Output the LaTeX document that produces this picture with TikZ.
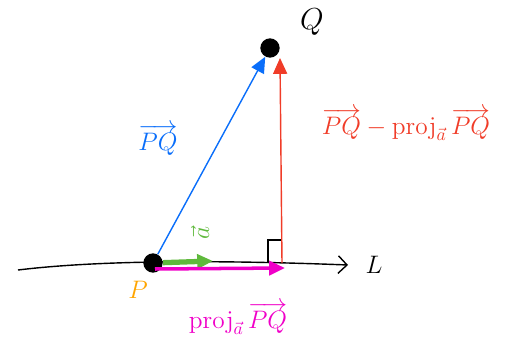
\documentclass[tikz,border=0pt]{standalone}
\usepackage{tikz}
\usetikzlibrary{arrows.meta, positioning}
\usepackage{amsmath}
\definecolor{penblue}{RGB}{10,110,250}
\definecolor{penred}{RGB}{240,60,40}
\definecolor{pengreen}{RGB}{95,185,60}
\definecolor{penpink}{RGB}{240,0,200}
\definecolor{penorange}{RGB}{255,165,0}
\tikzstyle{dot}=[circle, fill=black, inner sep=0pt, minimum size=11pt]
\tikzstyle{vec}=[-{Triangle[length=9pt, width=8pt]}, thick]
\tikzstyle{lbl}=[inner sep=1pt, font=\Large]

\begin{document}
\begin{tikzpicture}[x=0.02cm, y=-0.02cm]
  \useasboundingbox (0,0) rectangle (521,338);
  % line L
  \coordinate (L0) at (18,270);
  \coordinate (L1) at (348,265);
  \draw[-{Straight Barb[length=5pt]}, thick] (L0) .. controls (100,260) and (220,260) .. (L1);
  \node[lbl] (Ltext) at (374,265) {$L$};
  % points
  \node[dot] (P) at (153,263) {};
  \node[dot] (Q) at (270,48) {};
  \node[lbl, text=penorange] (Ptext) at (138,290) {$P$};
  \node[lbl, font=\LARGE] (Qtext) at (312,22) {$Q$};
  % foot of the perpendicular
  \coordinate (F) at (282,263);
  \coordinate (Ftop) at (280,58);
  \draw[thick] (268,263) |- (F |- 0,240);
  % vectors
  \draw[vec, color=penblue] (P) -- (Q);
  \draw[vec, color=penred] (F) -- (Ftop);
  \coordinate (A) at (213,261);
  \draw[vec, color=pengreen, line width=3pt] (P) -- (A);
  \coordinate (P2) at (155,269);
  \coordinate (F2) at (285,268);
  \draw[vec, color=penpink, line width=2pt] (P2) -- (F2);
  % labels
  \node[lbl, text=penblue] (PQtext) at (158,140) {$\overrightarrow{PQ}$};
  \node[lbl, text=pengreen, rotate=90] (atext) at (200,233) {$\vec{a}$};
  \node[lbl, text=penred] (perptext) at (406,124)
    {$\overrightarrow{PQ}-\mathrm{proj}_{\vec{a}}\,\overrightarrow{PQ}$};
  \node[lbl, text=penpink] (projtext) at (238,318)
    {$\mathrm{proj}_{\vec{a}}\,\overrightarrow{PQ}$};
\end{tikzpicture}
\end{document}
